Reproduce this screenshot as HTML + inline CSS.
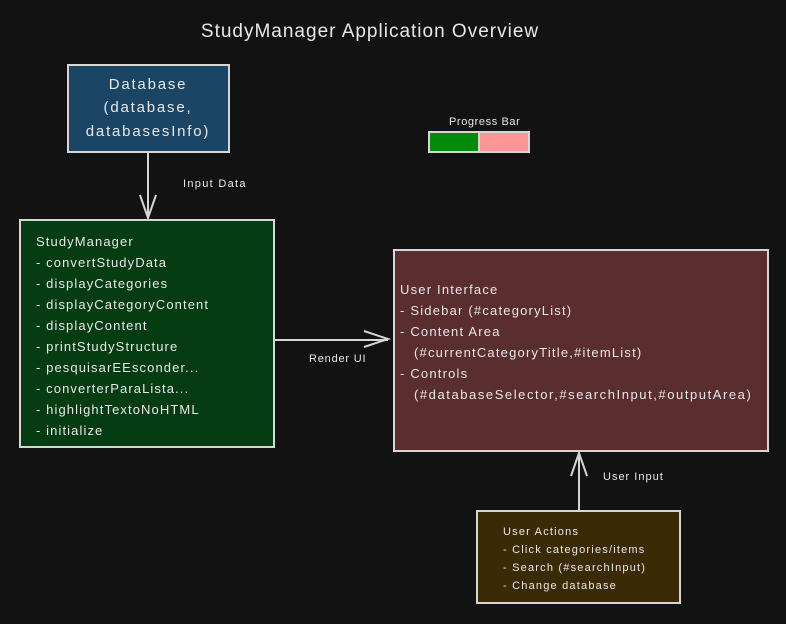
<!DOCTYPE html>
<html><head><meta charset="utf-8"><style>
body{margin:0;background:#121212;}
svg{display:block}
text{font-family:"Liberation Sans",sans-serif;fill:#e8e8e8;}
</style></head><body>
<svg width="786" height="624" viewBox="0 0 786 624" xmlns="http://www.w3.org/2000/svg">
<rect width="786" height="624" fill="#121212"/>
<text x="370" y="37" font-size="19" text-anchor="middle" letter-spacing="1">StudyManager Application Overview</text>

<rect x="68" y="65" width="161" height="87" fill="#1a4565" stroke="#d6d6d6" stroke-width="2"/>
<g font-size="15" letter-spacing="1.8" text-anchor="middle">
<text x="148" y="89">Database</text>
<text x="148" y="112">(database,</text>
<text x="148" y="136">databasesInfo)</text>
</g>

<line x1="148" y1="152" x2="148" y2="218" stroke="#d6d6d6" stroke-width="2"/>
<polyline points="140,195 148,218 156,195" fill="none" stroke="#d6d6d6" stroke-width="2"/>
<text x="183" y="187" font-size="11" letter-spacing="1.3">Input Data</text>

<rect x="20" y="220" width="254" height="227" fill="#053c12" stroke="#d6d6d6" stroke-width="2"/>
<g font-size="13" letter-spacing="1.1">
<text x="36" y="246">StudyManager</text>
<text x="36" y="267">- convertStudyData</text>
<text x="36" y="288">- displayCategories</text>
<text x="36" y="309">- displayCategoryContent</text>
<text x="36" y="330">- displayContent</text>
<text x="36" y="351">- printStudyStructure</text>
<text x="36" y="372">- pesquisarEEsconder...</text>
<text x="36" y="393">- converterParaLista...</text>
<text x="36" y="414">- highlightTextoNoHTML</text>
<text x="36" y="435">- initialize</text>
</g>

<line x1="275" y1="340" x2="388" y2="340" stroke="#d6d6d6" stroke-width="2"/>
<polyline points="364,331 388,339 364,347" fill="none" stroke="#d6d6d6" stroke-width="2"/>
<text x="309" y="362" font-size="11" letter-spacing="0.8">Render UI</text>

<text x="449" y="125" font-size="11" letter-spacing="0.6">Progress Bar</text>
<rect x="429" y="132" width="50" height="20" fill="#008b0a" stroke="#d6d6d6" stroke-width="2"/>
<rect x="479" y="132" width="50" height="20" fill="#ff9696" stroke="#d6d6d6" stroke-width="2"/>

<rect x="394" y="250" width="374" height="201" fill="#5a2d2e" stroke="#d6d6d6" stroke-width="2"/>
<g font-size="13" letter-spacing="1.2">
<text x="400" y="294">User Interface</text>
<text x="400" y="315">- Sidebar (#categoryList)</text>
<text x="400" y="336">- Content Area</text>
<text x="414" y="357">(#currentCategoryTitle,#itemList)</text>
<text x="400" y="378">- Controls</text>
<text x="414" y="399" textLength="338" lengthAdjust="spacing">(#databaseSelector,#searchInput,#outputArea)</text>
</g>

<line x1="579" y1="511" x2="579" y2="453" stroke="#d6d6d6" stroke-width="2"/>
<polyline points="571,476 579,453 587,476" fill="none" stroke="#d6d6d6" stroke-width="2"/>
<text x="603" y="480" font-size="11" letter-spacing="1">User Input</text>

<rect x="477" y="511" width="203" height="92" fill="#3b2a06" stroke="#d6d6d6" stroke-width="2"/>
<g font-size="11" letter-spacing="1.2">
<text x="503" y="535">User Actions</text>
<text x="503" y="553">- Click categories/items</text>
<text x="503" y="571">- Search (#searchInput)</text>
<text x="503" y="589">- Change database</text>
</g>
</svg>
</body></html>
